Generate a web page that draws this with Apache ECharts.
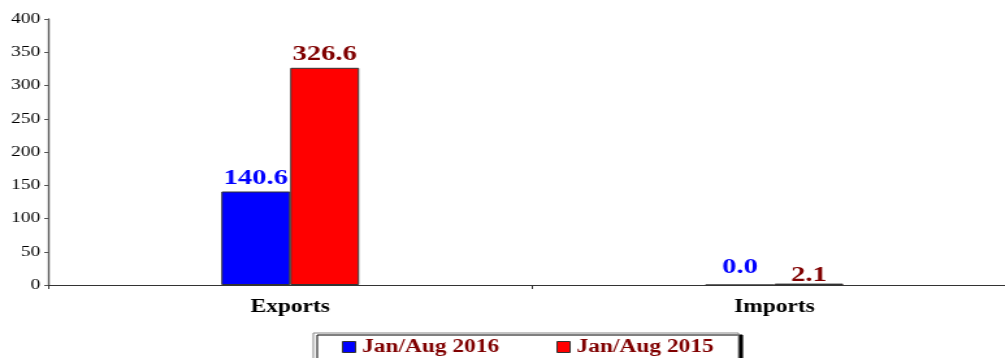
<!DOCTYPE html>
<html>
<head>
<meta charset="utf-8">
<script src="https://cdn.jsdelivr.net/npm/echarts@6/dist/echarts.min.js"></script>
<style>
  html, body { margin: 0; padding: 0; background: #fff; overflow: hidden; }
  /* The chart is laid out narrow and widened horizontally, giving the
     broad, stretched serif lettering of the printed figure. */
  #wrap { width: 1005px; height: 358px; overflow: hidden; }
  #chart { width: 774px; height: 358px; transform: scaleX(1.3); transform-origin: 0 0; }
</style>
</head>
<body>
<div id="wrap"><div id="chart"></div></div>
<script>
// Trade values (millions), Jan–Aug comparison
const categories = ['Exports', 'Imports'];
const seriesNames = ['Jan/Aug 2016', 'Jan/Aug 2015'];
const values2016 = [140.6, 0.0];
const values2015 = [326.6, 2.1];
const yTicks = { min: 0, max: 400, interval: 50 };

const serif = '"Liberation Serif", "Times New Roman", serif';

// label gap above each bar (per category), tightened where the bar is flat
const labelDistance2016 = [2, 6];
const labelDistance2015 = [2, -3];

const chart = echarts.init(document.getElementById('chart'));

function barSeries(name, values, distances, fill, labelColor) {
  return {
    name: name,
    type: 'bar',
    data: values.map((v, i) => ({ value: v, label: { distance: distances[i] } })),
    barWidth: 53,
    barGap: '0%',
    itemStyle: { color: fill, borderColor: '#333', borderWidth: 1 },
    label: {
      show: true,
      position: 'top',
      formatter: p => p.value.toFixed(1),
      color: labelColor,
      fontFamily: serif,
      fontWeight: 'bold',
      fontSize: 22
    }
  };
}

chart.setOption({
  animation: false,
  backgroundColor: '#fff',
  grid: {
    left: 37, top: 19, bottom: 73, width: 745,
    containLabel: false, outerBoundsMode: 'none'
  },
  xAxis: {
    type: 'category',
    data: categories,
    axisLine: { lineStyle: { color: '#333', width: 1.2 } },
    axisTick: { show: true, length: 4, lineStyle: { color: '#333' } },
    axisLabel: {
      color: '#000',
      fontFamily: serif,
      fontWeight: 'bold',
      fontSize: 18,
      margin: 13
    }
  },
  yAxis: {
    type: 'value',
    min: yTicks.min,
    max: yTicks.max,
    interval: yTicks.interval,
    axisLine: { show: true, lineStyle: { color: '#555', width: 1.4 } },
    axisTick: { show: true, length: 3, lineStyle: { color: '#555' } },
    splitLine: { show: false },
    axisLabel: {
      color: '#000',
      fontFamily: serif,
      fontSize: 15,
      margin: 6
    }
  },
  legend: {
    left: 241,
    top: 333,
    orient: 'horizontal',
    padding: [5, 19, 12, 22],
    itemGap: 44,
    itemWidth: 10,
    itemHeight: 11,
    backgroundColor: '#fff',
    borderColor: '#888',
    borderWidth: 1,
    borderRadius: 0,
    shadowColor: '#000',
    shadowOffsetX: 3,
    shadowOffsetY: 2,
    shadowBlur: 0,
    icon: 'rect',
    itemStyle: { borderColor: '#333', borderWidth: 1 },
    textStyle: {
      color: '#800000',
      fontFamily: serif,
      fontWeight: 'bold',
      fontSize: 18,
      padding: [0, 0, 0, 0]
    },
    data: seriesNames
  },
  series: [
    barSeries(seriesNames[0], values2016, labelDistance2016, '#0000ff', '#0000ff'),
    barSeries(seriesNames[1], values2015, labelDistance2015, '#ff0000', '#800000')
  ]
});
</script>
</body>
</html>
